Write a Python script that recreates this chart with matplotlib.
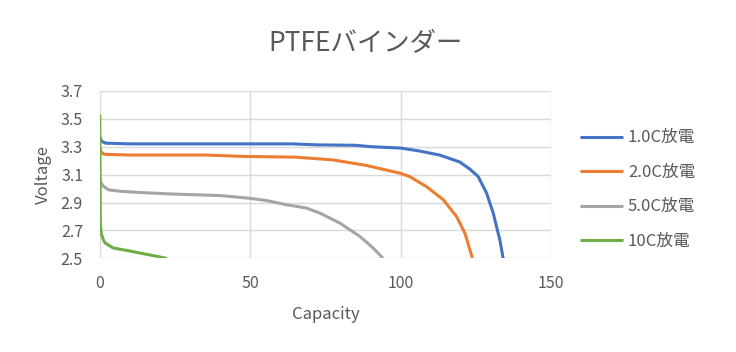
import matplotlib
matplotlib.use("Agg")
import matplotlib.pyplot as plt

plt.rcParams['font.family'] = ['Noto Sans CJK JP', 'DejaVu Sans']

# 1.0C discharge
cap_10 = [0, 0.5, 2, 10, 30, 50, 64, 72, 85, 90, 100, 106, 113, 119.7, 123, 125.8, 128.6, 130.8, 133, 134.1]
v_10 = [3.37, 3.34, 3.325, 3.32, 3.32, 3.32, 3.32, 3.313, 3.31, 3.30, 3.29, 3.27, 3.24, 3.19, 3.14, 3.086, 2.967, 2.824, 2.633, 2.5]
# 2.0C discharge
cap_20 = [0, 0.5, 1.5, 10, 35, 48, 65, 77.6, 88.7, 99.8, 103, 108.6, 114.2, 118.6, 121.4, 123.9]
v_20 = [3.30, 3.26, 3.245, 3.24, 3.24, 3.23, 3.225, 3.205, 3.165, 3.11, 3.086, 3.014, 2.92, 2.80, 2.68, 2.5]
# 5.0C discharge
cap_50 = [0, 0.5, 1, 3, 7, 15, 25, 40, 50, 55.5, 62.1, 68.8, 73.2, 79.8, 86.5, 90.9, 94.2]
v_50 = [3.07, 3.04, 3.02, 2.99, 2.98, 2.97, 2.96, 2.95, 2.93, 2.914, 2.884, 2.86, 2.824, 2.753, 2.657, 2.574, 2.5]
# 10C discharge
cap_100 = [0, 0.1, 0.2, 0.5, 1.2, 1.8, 4.5, 9, 13.4, 17.8, 22.3]
v_100 = [3.53, 3.2, 2.75, 2.68, 2.633, 2.61, 2.574, 2.557, 2.538, 2.52, 2.5]

labels = ['1.0C放電', '2.0C放電', '5.0C放電', '10C放電']
colors = ['#4472c4', '#ed7d31', '#a5a5a5', '#70ad47']

fig = plt.figure(figsize=(7.36, 3.52), dpi=100)
ax = fig.add_axes([0.1355, 0.266, 0.6131, 0.476])

series = [(cap_10, v_10), (cap_20, v_20), (cap_50, v_50), (cap_100, v_100)]
for (x, y), lab, c in zip(series, labels, colors):
    ax.plot(x, y, color=c, lw=2.2, label=lab, solid_capstyle='butt')

ax.set_xlim(0, 150)
ax.set_ylim(2.5, 3.7)
ax.set_xticks([0, 50, 100, 150])
ax.set_yticks([2.5, 2.7, 2.9, 3.1, 3.3, 3.5, 3.7])
ax.set_yticklabels(['2.5', '2.7', '2.9', '3.1', '3.3', '3.5', '3.7'])
ax.grid(True, color='#d9d9d9', lw=1)
ax.set_axisbelow(True)
for s in ax.spines.values():
    s.set_visible(False)
ax.tick_params(length=0, labelsize=11.5, colors='#595959')
ax.tick_params(axis='y', pad=12)
ax.tick_params(axis='x', pad=12)

ax.set_xlabel('Capacity', fontsize=12, color='#595959', labelpad=10)
ax.set_ylabel('Voltage', fontsize=12, color='#595959', labelpad=6)
fig.text(0.497, 0.875, 'PTFEバインダー', ha='center', va='center', fontsize=19, color='#595959')

leg = ax.legend(loc='center left', bbox_to_anchor=(1.03, 0.41), frameon=False,
                fontsize=12, handlelength=2.6, labelspacing=1.05, handletextpad=0.3)
for t in leg.get_texts():
    t.set_color('#595959')

fig.savefig('out.png', dpi=100)
